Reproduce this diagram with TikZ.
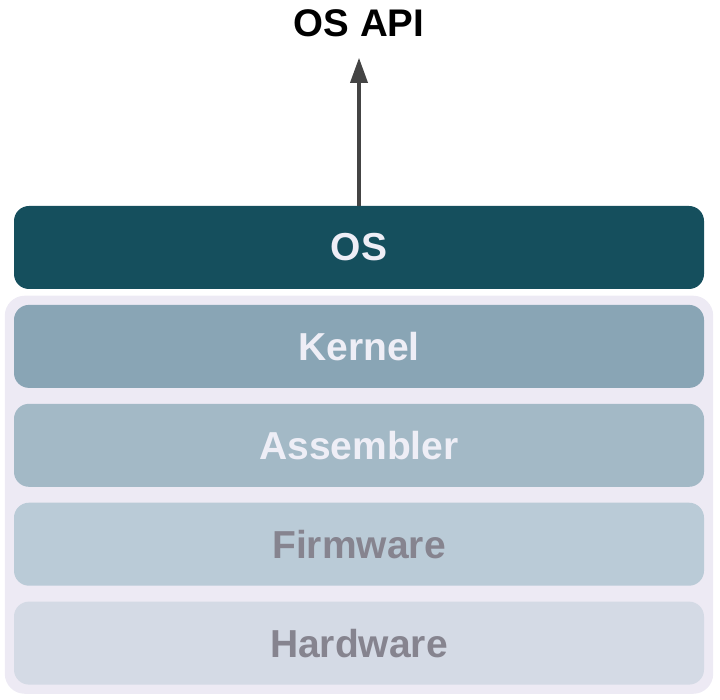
\documentclass[tikz,border=0pt]{standalone}
\usepackage{fontspec}
\setmainfont{Liberation Sans}
\usetikzlibrary{arrows.meta,positioning,fit,backgrounds}
\definecolor{osteal}{HTML}{154F5D}
\definecolor{kernelblue}{HTML}{89A5B5}
\definecolor{asmblue}{HTML}{A3B9C6}
\definecolor{fwblue}{HTML}{BACBD7}
\definecolor{hwblue}{HTML}{D4DAE5}
\definecolor{stacklav}{HTML}{EDEAF4}
\definecolor{lighttext}{HTML}{EEEEF6}
\definecolor{darktext}{HTML}{86848F}
\definecolor{arrowgray}{HTML}{444444}

\begin{document}
\begin{tikzpicture}[
  x=1pt,y=-1pt,
  node distance=15.5pt,
  layer/.style={rectangle,rounded corners=15pt,minimum width=690pt,minimum height=83pt,inner sep=0pt,font=\bfseries\fontsize{39}{44}\selectfont},
  apilabel/.style={inner sep=0pt,font=\bfseries\fontsize{38.5}{44}\selectfont},
  >={Triangle[length=25pt,width=17pt]}
]
\useasboundingbox (0,0) rectangle (720,700);
\node[layer,fill=osteal,text=lighttext] (os) at (359,247.5) {OS};
\node[layer,fill=kernelblue,text=lighttext,below=of os] (kernel) {Kernel};
\node[layer,fill=asmblue,text=lighttext,below=of kernel] (asm) {Assembler};
\node[layer,fill=fwblue,text=darktext,below=of asm] (fw) {Firmware};
\node[layer,fill=hwblue,text=darktext,below=of fw] (hw) {Hardware};
\node[apilabel,above=169pt of os] (api) {OS API};

\begin{scope}[on background layer]
\node[fit=(kernel)(hw),fill=stacklav,rounded corners=20pt,inner sep=9pt] (stack) {};
\end{scope}

\draw[->,draw=arrowgray,fill=arrowgray,line width=3.5pt,shorten >=21pt] (os) -- (api);
\end{tikzpicture}
\end{document}
